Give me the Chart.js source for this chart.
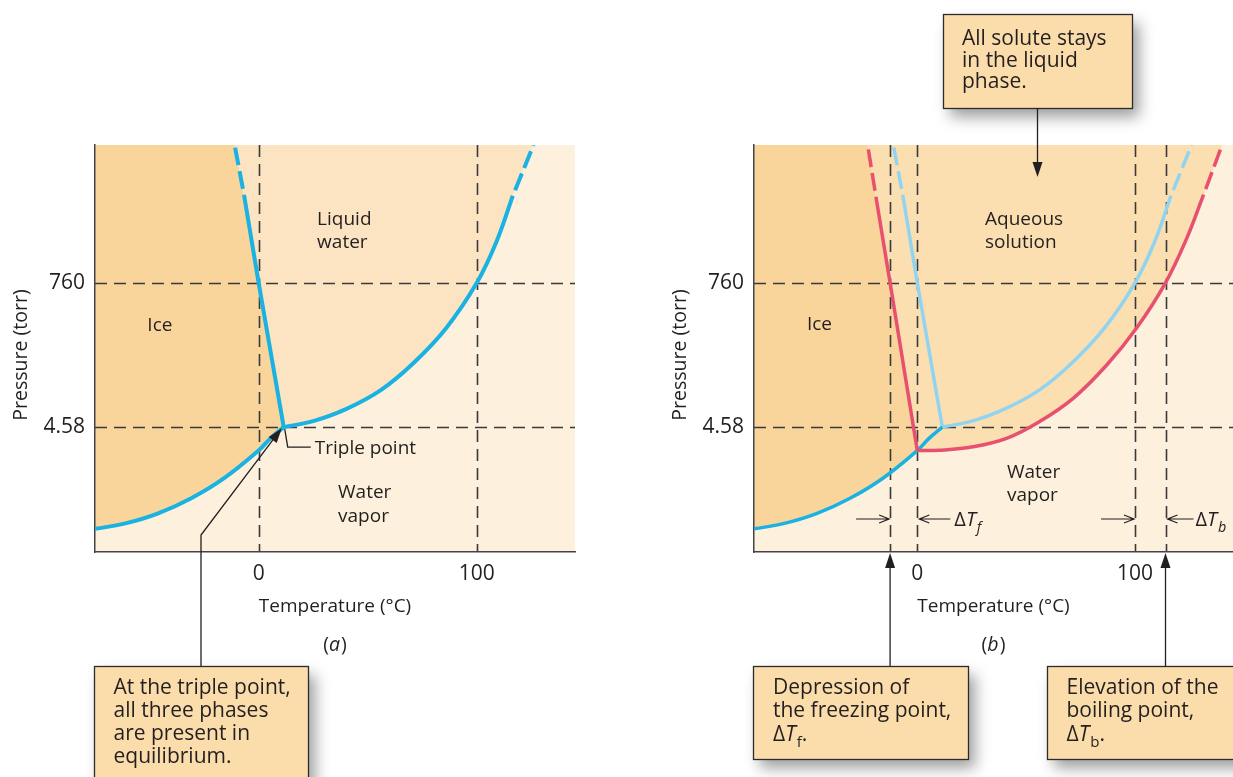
<!DOCTYPE html>
<html>
<head>
<meta charset="utf-8">
<title>Phase diagrams: water and an aqueous solution</title>
<script src="https://cdn.jsdelivr.net/npm/chart.js@4.4.1/dist/chart.umd.min.js"></script>
<style>
  html, body { margin: 0; padding: 0; background: #fff; }
  #page { position: relative; width: 1233px; height: 777px; overflow: hidden; }
  #page canvas { position: absolute; top: 0; }
</style>
</head>
<body>
<div id="page">
  <canvas id="chartA" width="616" height="777" style="left:0px"></canvas>
  <canvas id="chartB" width="573" height="777" style="left:660px"></canvas>
</div>
<script>
// ---- axes ----
const tempRange = [-75, 145];
const pressureRange = [0.055, 100000];
const tempTicks = [0, 100];
const pressureTicks = [4.58, 760];
const pressureTickLabels = ['4.58', '760'];

// ---- pure water ----
const sublimationT = [-75, -61.5, -46.3, -31.1, -15.8, 0, 5.5, 11.5];
const sublimationP = [0.125, 0.15, 0.214, 0.365, 0.75, 2.0, 3.1, 4.58];
const meltingT = [11.5, 0, -6.7];
const meltingP = [4.58, 760, 17200];
const meltingDashT = [-6.7, -11];
const meltingDashP = [17200, 100000];
const vaporT = [11.5, 25, 40, 56, 71, 86, 100, 109, 116.5];
const vaporP = [4.58, 5.67, 8.67, 17, 44.4, 153.6, 760, 3250, 16600];
const vaporDashT = [116.5, 126];
const vaporDashP = [16600, 100000];

// ---- aqueous solution ----
const freezingPointSolution = -12.5;
const boilingPointSolution = 114;
const solMeltingT = [0, -12.5, -19];
const solMeltingP = [2.0, 760, 16000];
const solMeltingDashT = [-19, -22.8];
const solMeltingDashP = [16000, 100000];
const solVaporT = [0, 10, 25.5, 41, 56, 71.6, 87, 100.8, 114, 123.8, 131.5];
const solVaporP = [2.0, 2.02, 2.28, 3.07, 5.53, 12.7, 41.3, 155, 760, 3700, 17200];
const solVaporDashT = [131.5, 140];
const solVaporDashP = [17200, 100000];

// ---- dashed guide lines ----
const guideTempsA = [0, 100];
const guideTempsB = [freezingPointSolution, 0, 100, boilingPointSolution];
const guidePressures = [4.58, 760];

// ---- look ----
const INK = '#231f20';
const FONT = "'Open Sans', 'Noto Sans', sans-serif";
const ICE = '#f9d59b';
const LIQUID = '#fce4c3';
const SOLUTION = '#fbdfb1';
const VAPOR = '#fdf0dd';
const BOX_FILL = '#fbdcab';
const CYAN = '#19b2e2';
const PALE = '#92d4f0';
const RED = '#e7506e';
const DASH = [18, 6];

Chart.defaults.font.family = FONT;
Chart.defaults.color = INK;

const xy = (ts, ps) => ts.map((t, i) => ({x: t, y: ps[i]}));

function curve(label, ts, ps, color, width, extra) {
  return Object.assign({
    label: label,
    data: xy(ts, ps),
    borderColor: color,
    borderWidth: width,
    pointRadius: 0,
    fill: false,
    tension: 0,
    clip: 0,
    borderCapStyle: 'butt'
  }, extra || {});
}
const smooth = {tension: 0.4};
const dashed = {borderDash: DASH, borderDashOffset: DASH[0]};

function setFont(ctx, size, italic) {
  ctx.font = (italic ? 'italic ' : '') + size + 'px ' + FONT;
}

// runs: [[text, style]] style: '' | 'i' italic | 's' subscript | 'is'
function drawRuns(ctx, runs, x, y, size, align, rotate) {
  if (typeof runs === 'string') runs = [[runs, '']];
  const parts = runs.map(r => {
    const st = r[1] || '';
    const sz = st.includes('s') ? size * 0.72 : size;
    setFont(ctx, sz, st.includes('i'));
    return {text: r[0], sz: sz, it: st.includes('i'), dy: st.includes('s') ? size * 0.3 : 0,
            w: ctx.measureText(r[0]).width + (st === 'i' ? 1 : 0)};
  });
  const total = parts.reduce((s, p) => s + p.w, 0);
  let cx = align === 'center' ? x - total / 2 : x;
  ctx.textAlign = 'left';
  ctx.textBaseline = 'alphabetic';
  ctx.fillStyle = INK;
  parts.forEach(p => {
    setFont(ctx, p.sz, p.it);
    ctx.fillText(p.text, cx, y + p.dy);
    cx += p.w;
  });
}

function textBlock(ctx, lines, x, y, size, lh) {
  lines.forEach((l, i) => drawRuns(ctx, l, x, y + i * lh, size, 'left'));
}

function calloutBox(ctx, x, y, w, h) {
  ctx.save();
  ctx.shadowColor = 'rgba(0,0,0,0.38)';
  ctx.shadowBlur = 14;
  ctx.shadowOffsetX = 7;
  ctx.shadowOffsetY = 9;
  ctx.fillStyle = BOX_FILL;
  ctx.fillRect(x, y, w, h);
  ctx.restore();
  ctx.strokeStyle = '#2b2b2b';
  ctx.lineWidth = 1.3;
  ctx.strokeRect(x + 0.5, y + 0.5, w, h);
}

function filledHead(ctx, tx, ty, ang, len, half) {
  const c = Math.cos(ang), s = Math.sin(ang);
  ctx.beginPath();
  ctx.moveTo(tx, ty);
  ctx.lineTo(tx - len * c + half * s, ty - len * s - half * c);
  ctx.lineTo(tx - len * c - half * s, ty - len * s + half * c);
  ctx.closePath();
  ctx.fillStyle = INK;
  ctx.fill();
}

function openArrow(ctx, fromX, tipX, y) {
  const dir = tipX > fromX ? 1 : -1;
  ctx.beginPath();
  ctx.moveTo(fromX, y);
  ctx.lineTo(tipX, y);
  ctx.moveTo(tipX - dir * 10, y - 4);
  ctx.lineTo(tipX, y);
  ctx.lineTo(tipX - dir * 10, y + 4);
  ctx.stroke();
}

// trace a piece of a dataset's line (following its bezier control points)
function tracePart(ctx, chart, part, first) {
  const a = chart.chartArea;
  if (part.corner) {
    const px = part.corner[0] === 'left' ? a.left : a.right;
    const py = part.corner[1] === 'top' ? a.top : a.bottom;
    first ? ctx.moveTo(px, py) : ctx.lineTo(px, py);
    return;
  }
  const meta = chart.getDatasetMeta(part.ds);
  const line = meta.dataset;
  line.updateControlPoints(a, 'x');
  const pts = meta.data;
  const curved = line.options.tension > 0 || line.options.cubicInterpolationMode === 'monotone';
  const step = part.to >= part.from ? 1 : -1;
  const p0 = pts[part.from];
  first ? ctx.moveTo(p0.x, p0.y) : ctx.lineTo(p0.x, p0.y);
  for (let i = part.from; i !== part.to; i += step) {
    const p = pts[i], q = pts[i + step];
    if (!curved) ctx.lineTo(q.x, q.y);
    else if (step > 0) ctx.bezierCurveTo(p.cp2x, p.cp2y, q.cp1x, q.cp1y, q.x, q.y);
    else ctx.bezierCurveTo(p.cp1x, p.cp1y, q.cp2x, q.cp2y, q.x, q.y);
  }
}

function phasePlugin(panel) {
  return {
    id: 'phase' + panel.name,
    beforeDraw(chart) {
      const {ctx, chartArea: a, scales: {x, y}} = chart;
      ctx.save();
      ctx.beginPath();
      ctx.rect(a.left, a.top, a.right - a.left, a.bottom - a.top);
      ctx.clip();
      ctx.fillStyle = VAPOR;
      ctx.fillRect(a.left, a.top, a.right - a.left, a.bottom - a.top);
      panel.regions.forEach(r => {
        ctx.beginPath();
        r.parts.forEach((p, i) => tracePart(ctx, chart, p, i === 0));
        ctx.closePath();
        ctx.fillStyle = r.color;
        ctx.fill();
      });
      // dashed guides
      ctx.strokeStyle = '#3a3a3a';
      ctx.lineWidth = 1.6;
      ctx.setLineDash([12, 7]);
      panel.guideTemps.forEach(t => {
        const px = Math.round(x.getPixelForValue(t)) + 0.5;
        ctx.beginPath(); ctx.moveTo(px, a.top); ctx.lineTo(px, a.bottom); ctx.stroke();
      });
      guidePressures.forEach(p => {
        const py = Math.round(y.getPixelForValue(p)) + 0.5;
        ctx.beginPath(); ctx.moveTo(a.left, py); ctx.lineTo(a.right, py); ctx.stroke();
      });
      ctx.restore();
    },
    afterDraw(chart) {
      const ctx = chart.ctx;
      const X = v => chart.scales.x.getPixelForValue(v);
      const Y = v => chart.scales.y.getPixelForValue(v);
      const a = chart.chartArea;
      ctx.save();
      panel.labels.forEach(l => textBlock(ctx, l.lines, X(l.t), Y(l.p), 19, 23.5));
      drawRuns(ctx, [['(', ''], [panel.letter, 'i'], [')', '']], (a.left + a.right) / 2, 651, 19.5, 'center');
      // y axis title
      ctx.save();
      ctx.translate(a.left - 68, 355);
      ctx.rotate(-Math.PI / 2);
      drawRuns(ctx, 'Pressure (torr)', 0, 0, 19.5, 'center');
      ctx.restore();
      panel.annotate(ctx, chart, X, Y);
      ctx.restore();
    }
  };
}

function makeScales(yAxisWidth) {
  return {
    x: {
      type: 'linear', min: tempRange[0], max: tempRange[1], bounds: 'data',
      grid: {display: false, drawTicks: false},
      border: {display: true, color: '#444', width: 1.5},
      ticks: {padding: 9, font: {size: 21}, color: INK, callback: v => String(v)},
      afterBuildTicks: s => { s.ticks = tempTicks.map(v => ({value: v})); },
      afterFit: s => { s.height = 225; },
      title: {display: true, text: 'Temperature (°C)', color: INK, font: {size: 19},
              padding: {top: 0, bottom: 159}}
    },
    y: {
      type: 'logarithmic', min: pressureRange[0], max: pressureRange[1], bounds: 'data',
      grid: {display: false, drawTicks: false},
      border: {display: true, color: '#444', width: 1.5},
      ticks: {padding: 10, font: {size: 21}, color: INK,
              callback: v => pressureTickLabels[pressureTicks.indexOf(v)]},
      afterBuildTicks: s => { s.ticks = pressureTicks.map(v => ({value: v})); },
      afterFit: s => { s.width = yAxisWidth; }
    }
  };
}

function buildPanel(canvasId, panel, datasets, yAxisWidth, rightPad) {
  return new Chart(document.getElementById(canvasId), {
    type: 'line',
    data: {datasets: datasets},
    options: {
      responsive: false,
      animation: false,
      devicePixelRatio: 1,
      events: [],
      layout: {padding: {top: 145, right: rightPad, left: 0, bottom: 0}},
      plugins: {legend: {display: false}, tooltip: {enabled: false}},
      scales: makeScales(yAxisWidth)
    },
    plugins: [phasePlugin(panel)]
  });
}

// ---------- panel (a): pure water ----------
const dsA = [
  curve('Ice / vapor', sublimationT, sublimationP, CYAN, 4, smooth),      // 0
  curve('Ice / liquid', meltingT, meltingP, CYAN, 4),                     // 1
  curve('Ice / liquid (ext.)', meltingDashT, meltingDashP, CYAN, 4, dashed), // 2
  curve('Liquid / vapor', vaporT, vaporP, CYAN, 4, smooth),                // 3
  curve('Liquid / vapor (ext.)', vaporDashT, vaporDashP, CYAN, 4, dashed)  // 4
];

const panelA = {
  name: 'A',
  letter: 'a',
  guideTemps: guideTempsA,
  regions: [
    {color: ICE, parts: [{corner: ['left', 'top']}, {ds: 0, from: 0, to: sublimationT.length - 1},
                         {ds: 1, from: 0, to: 2}, {ds: 2, from: 0, to: 1}]},
    {color: LIQUID, parts: [{ds: 2, from: 1, to: 0}, {ds: 1, from: 2, to: 0},
                            {ds: 3, from: 0, to: vaporT.length - 1}, {ds: 4, from: 0, to: 1}]}
  ],
  labels: [
    {lines: ['Liquid', 'water'], t: 26.8, p: 5900},
    {lines: ['Ice'], t: -51, p: 138},
    {lines: ['Water', 'vapor'], t: 36.4, p: 0.372}
  ],
  annotate(ctx, chart, X, Y) {
    const tx = X(meltingT[0]), ty = Y(meltingP[0]);
    ctx.strokeStyle = INK;
    ctx.lineWidth = 1.3;
    ctx.beginPath();
    ctx.moveTo(tx + 1, ty + 2);
    ctx.lineTo(tx + 4, ty + 20);
    ctx.lineTo(tx + 27, ty + 20);
    ctx.stroke();
    drawRuns(ctx, 'Triple point', tx + 31, ty + 27, 19, 'left');

    calloutBox(ctx, 94, 666, 214, 130);
    textBlock(ctx, ['At the triple point,', 'all three phases', 'are present in', 'equilibrium.'],
              113.5, 693.5, 21, 23.3);
    const bx = 201, by = 535, tipX = tx - 2, tipY = ty + 1;
    const ang = Math.atan2(tipY - by, tipX - bx);
    ctx.strokeStyle = INK;
    ctx.lineWidth = 1.3;
    ctx.beginPath();
    ctx.moveTo(bx, 666);
    ctx.lineTo(bx, by);
    ctx.lineTo(tipX - 10 * Math.cos(ang), tipY - 10 * Math.sin(ang));
    ctx.stroke();
    filledHead(ctx, tipX, tipY, ang, 15, 5);
  }
};

// ---------- panel (b): aqueous solution ----------
const dsB = [
  curve('Solution freezing', solMeltingT, solMeltingP, RED, 3.5),                   // 0
  curve('Solution freezing (ext.)', solMeltingDashT, solMeltingDashP, RED, 3.5, dashed), // 1
  curve('Solution boiling', solVaporT, solVaporP, RED, 3.5, smooth),                // 2
  curve('Solution boiling (ext.)', solVaporDashT, solVaporDashP, RED, 3.5, dashed), // 3
  curve('Ice / vapor', sublimationT, sublimationP, CYAN, 3.5, smooth),             // 4
  curve('Water freezing', meltingT, meltingP, PALE, 3.5),                           // 5
  curve('Water freezing (ext.)', meltingDashT, meltingDashP, PALE, 3.5, dashed),    // 6
  curve('Water boiling', vaporT, vaporP, PALE, 3.5, smooth),                        // 7
  curve('Water boiling (ext.)', vaporDashT, vaporDashP, PALE, 3.5, dashed)          // 8
];

const panelB = {
  name: 'B',
  letter: 'b',
  guideTemps: guideTempsB,
  regions: [
    {color: ICE, parts: [{corner: ['left', 'top']}, {ds: 4, from: 0, to: sublimationT.indexOf(0)},
                         {ds: 0, from: 0, to: 2}, {ds: 1, from: 0, to: 1}]},
    {color: SOLUTION, parts: [{ds: 1, from: 1, to: 0}, {ds: 0, from: 2, to: 0},
                              {ds: 2, from: 0, to: solVaporT.length - 1}, {ds: 3, from: 0, to: 1}]}
  ],
  labels: [
    {lines: ['Aqueous', 'solution'], t: 31.1, p: 5900},
    {lines: ['Ice'], t: -50.7, p: 143},
    {lines: ['Water', 'vapor'], t: 41.2, p: 0.756}
  ],
  annotate(ctx, chart, X, Y) {
    const a = chart.chartArea;
    const yArrow = Y(0.177);
    const xf = X(freezingPointSolution), x0 = X(0), x100 = X(100), xb = X(boilingPointSolution);
    ctx.strokeStyle = INK;
    ctx.lineWidth = 1.2;
    openArrow(ctx, xf - 34, xf - 1, yArrow);
    openArrow(ctx, x0 + 33, x0 + 2, yArrow);
    openArrow(ctx, x100 - 34, x100 - 1, yArrow);
    openArrow(ctx, xb + 28, xb + 2, yArrow);
    drawRuns(ctx, [['Δ', ''], ['T', 'i'], ['f', 'is']], x0 + 37, yArrow + 7, 20, 'left');
    drawRuns(ctx, [['Δ', ''], ['T', 'i'], ['b', 'is']], xb + 30, yArrow + 7, 20, 'left');

    // top callout
    calloutBox(ctx, 283, 14, 189, 94);
    textBlock(ctx, ['All solute stays', 'in the liquid', 'phase.'], 302, 45, 21, 21.5);
    ctx.strokeStyle = INK;
    ctx.lineWidth = 1.3;
    ctx.beginPath(); ctx.moveTo(377.5, 108); ctx.lineTo(377.5, 165); ctx.stroke();
    filledHead(ctx, 377.5, 177, Math.PI / 2, 15, 5);

    // bottom callouts
    calloutBox(ctx, 93, 666, 215, 93);
    textBlock(ctx, ['Depression of', 'the freezing point,', [['Δ', ''], ['T', 'i'], ['f', 's'], ['.', '']]],
              113, 693.5, 21, 23.5);
    calloutBox(ctx, 387, 666, 215, 93);
    textBlock(ctx, ['Elevation of the', 'boiling point,', [['Δ', ''], ['T', 'i'], ['b', 's'], ['.', '']]],
              406.5, 693.5, 21, 23.5);
    [xf, xb].forEach(px => {
      ctx.strokeStyle = INK;
      ctx.lineWidth = 1.3;
      ctx.beginPath(); ctx.moveTo(px, 666); ctx.lineTo(px, a.bottom + 12); ctx.stroke();
      filledHead(ctx, px, a.bottom + 1, -Math.PI / 2, 15, 5);
    });
  }
};

Promise.all([
  document.fonts.load('20px "Open Sans"'),
  document.fonts.load('italic 20px "Open Sans"')
]).catch(() => null).then(() => {
  buildPanel('chartA', panelA, dsA, 95, 41);
  buildPanel('chartB', panelB, dsB, 94, 0);
});
</script>
</body>
</html>
